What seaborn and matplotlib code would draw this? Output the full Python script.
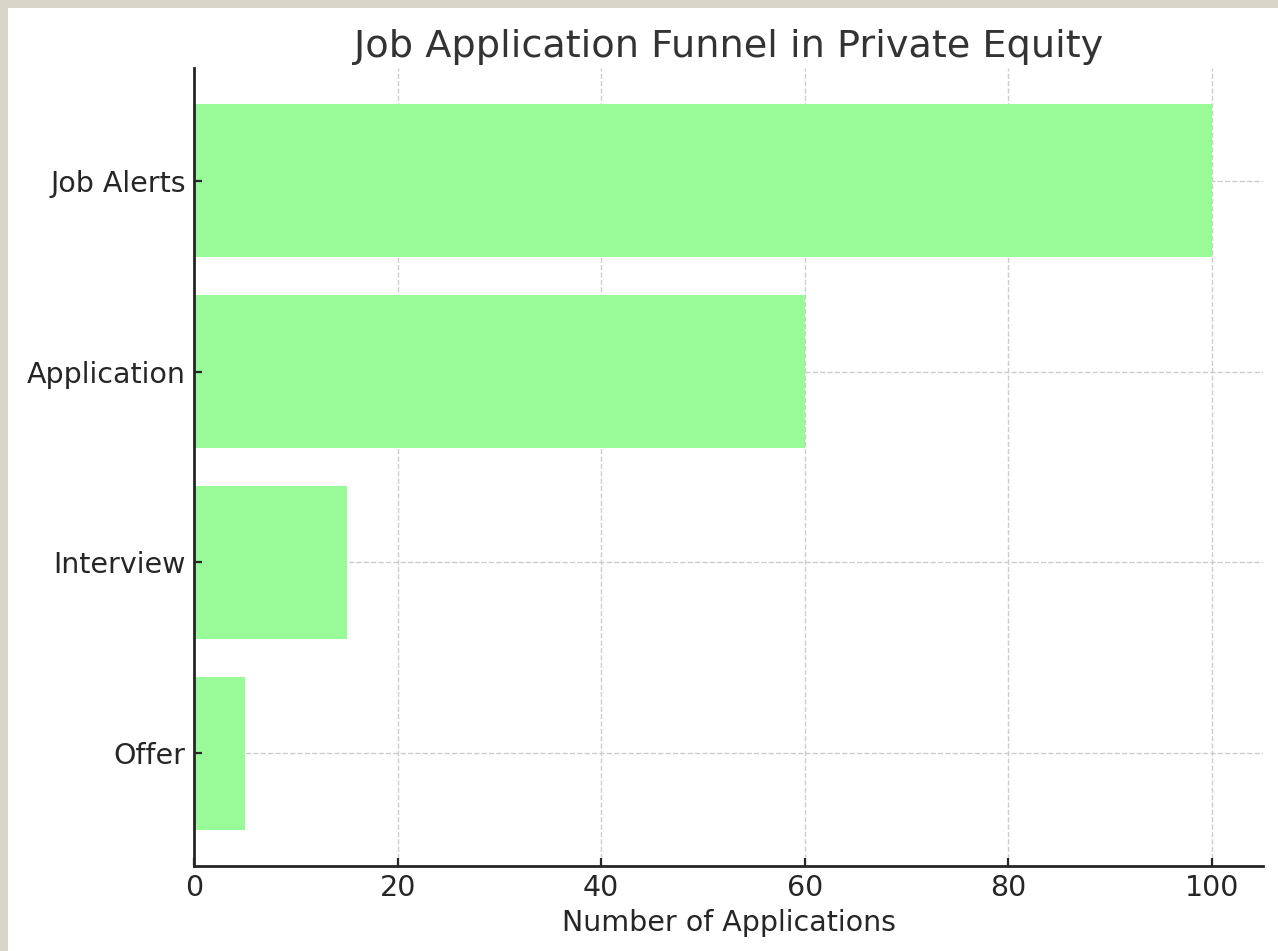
import matplotlib
matplotlib.use("Agg")
import matplotlib.pyplot as plt
import matplotlib.patches as mpatches
import seaborn as sns
import pandas as pd

# Funnel stages and counts
stages = ["Job Alerts", "Application", "Interview", "Offer"]
counts = [100, 60, 15, 5]

df = pd.DataFrame({"Stage": stages, "Count": counts})

sns.set_style("white")
plt.rcParams["font.family"] = ["DejaVu Sans"]

fig = plt.figure(figsize=(12.78, 9.51), dpi=100, facecolor="#d9d5c9")
# white canvas inset from the top and left edges
fig.patches.append(mpatches.Rectangle((8 / 1278, 0), 1 - 8 / 1278, 1 - 8 / 951,
                                      transform=fig.transFigure, facecolor="white",
                                      edgecolor="none", zorder=-10))
ax = fig.add_axes([194 / 1278, 1 - 866 / 951, (1263 - 194) / 1278, (866 - 68) / 951])
ax.set_facecolor("white")

sns.barplot(data=df, x="Count", y="Stage", ax=ax, color="#98fb98", saturation=1,
            width=0.8, linewidth=0, zorder=2)

ax.set_xlim(0, 105)
ax.set_ylim(3.59, -0.59)
ax.set_xticks([0, 20, 40, 60, 80, 100])

# dashed grid kept behind the bars, ticks drawn on top of them
ax.grid(False)
ax.set_axisbelow(False)
grid_kw = dict(linestyles="--", colors="#cccccc", linewidth=1.0, zorder=1)
ax.vlines(ax.get_xticks(), 0, 1, transform=ax.get_xaxis_transform(), **grid_kw)
ax.hlines(ax.get_yticks(), 0, 1, transform=ax.get_yaxis_transform(), **grid_kw)

for s in ["top", "right"]:
    ax.spines[s].set_visible(False)
for s in ["left", "bottom"]:
    ax.spines[s].set_color("#262626")
    ax.spines[s].set_linewidth(2.0)

ax.tick_params(axis="both", which="both", direction="in", length=6, width=1.6,
               color="#262626", labelsize=20.5, labelcolor="#262626", pad=6,
               bottom=True, left=True)

ax.set_title("Job Application Funnel in Private Equity", fontsize=27.5,
             color="#333333", pad=8)
ax.set_xlabel("Number of Applications", fontsize=20.5, color="#262626", labelpad=5)
ax.set_ylabel("")

fig.savefig("out.png", dpi=100, facecolor=fig.get_facecolor())
